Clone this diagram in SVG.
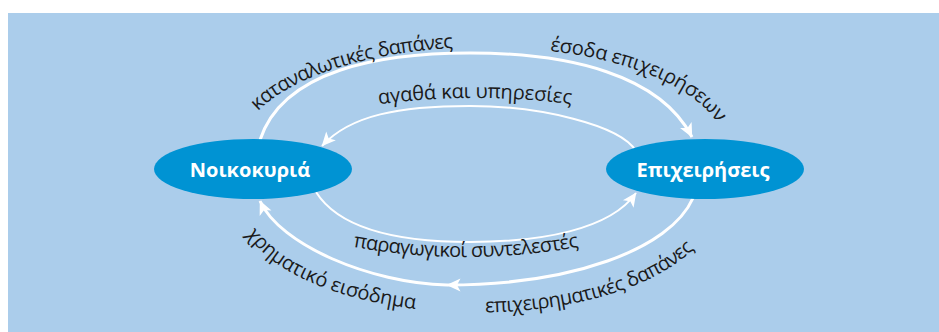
<svg xmlns="http://www.w3.org/2000/svg" width="939" height="332" viewBox="0 0 939 332">
  <style>
    .bg { fill: #abcdeb; }
    .node { fill: #0093d3; }
    .nlabel { font-family: "Open Sans", "Noto Sans", "DejaVu Sans", sans-serif; font-weight: bold; font-size: 20px; fill: #ffffff; text-anchor: middle; }
    .flow { fill: none; stroke: #ffffff; stroke-linecap: butt; }
    .outer { stroke-width: 3; }
    .inner { stroke-width: 2; }
    .lbl { font-family: "Open Sans", "Noto Sans", "DejaVu Sans", sans-serif; font-size: 20px; fill: #1a1a1a; }
  </style>
  <defs>
    <marker id="ah" markerUnits="userSpaceOnUse" viewBox="-16 -8 18 16" refX="0" refY="0" markerWidth="18" markerHeight="16" orient="auto">
      <path d="M0.5,0 L-13.5,-6.5 L-10,0 L-13.5,6.5 Z" fill="#ffffff"/>
    </marker>
    <path id="tp1" d="M258,111.3 A245,103 0 0 1 485,47 A232,103 0 0 1 717,150"/>
    <path id="tp2" d="M550,51.1 A232,103 0 0 1 722,170"/>
    <path id="tp3" d="M330,112 Q475,84 620,112"/>
    <path id="tp4" d="M320,240 Q466,274 612,240"/>
    <path id="tp5" d="M232,200 C258,350 695,350 721,200"/>
  </defs>

  <rect class="bg" x="8" y="13" width="931" height="319"/>

  <g id="connectors">
    <path id="c-outer-top" class="flow outer" d="M260,140 C283,70 380,53 470,53 C570,53 660,75 692,137" marker-end="url(#ah)"/>
    <path id="c-inner-top" class="flow inner" d="M636,151 C620,125 540,106 470,106 C400,106 350,115 322,146" marker-end="url(#ah)"/>
    <path id="c-inner-bottom" class="flow inner" d="M316,192 C340,230 400,242 470,242 C540,242 610,230 636,193" marker-end="url(#ah)"/>
    <path id="c-outer-bottom-a" class="flow outer" d="M693,198 C670,250 570,285 447,285" marker-end="url(#ah)"/>
    <path id="c-outer-bottom-b" class="flow outer" d="M447,285 C370,283 280,245 260,201" marker-end="url(#ah)"/>
  </g>

  <g id="labels">
    <text class="lbl"><textPath href="#tp1" startOffset="0" textLength="209" lengthAdjust="spacing">καταναλωτικές δαπάνες</textPath></text>
    <text class="lbl"><textPath href="#tp2" startOffset="0" textLength="187" lengthAdjust="spacing">έσοδα επιχειρήσεων</textPath></text>
    <text class="lbl" text-anchor="middle"><textPath href="#tp3" startOffset="50%" textLength="193" lengthAdjust="spacing">αγαθά και υπηρεσίες</textPath></text>
    <text class="lbl" text-anchor="middle"><textPath href="#tp4" startOffset="50%" textLength="227" lengthAdjust="spacing">παραγωγικοί συντελεστές</textPath></text>
    <text class="lbl"><textPath href="#tp5" startOffset="37" textLength="190" lengthAdjust="spacing">χρηματικό εισόδημα</textPath></text>
    <text class="lbl"><textPath href="#tp5" startOffset="297" textLength="223" lengthAdjust="spacing">επιχειρηματικές δαπάνες</textPath></text>
  </g>

  <g id="node-households">
    <ellipse class="node" cx="253" cy="169" rx="99" ry="30"/>
    <text class="nlabel" x="250" y="177">Νοικοκυριά</text>
  </g>
  <g id="node-businesses">
    <ellipse class="node" cx="705" cy="169" rx="99" ry="30"/>
    <text class="nlabel" x="703" y="177">Επιχειρήσεις</text>
  </g>
</svg>
